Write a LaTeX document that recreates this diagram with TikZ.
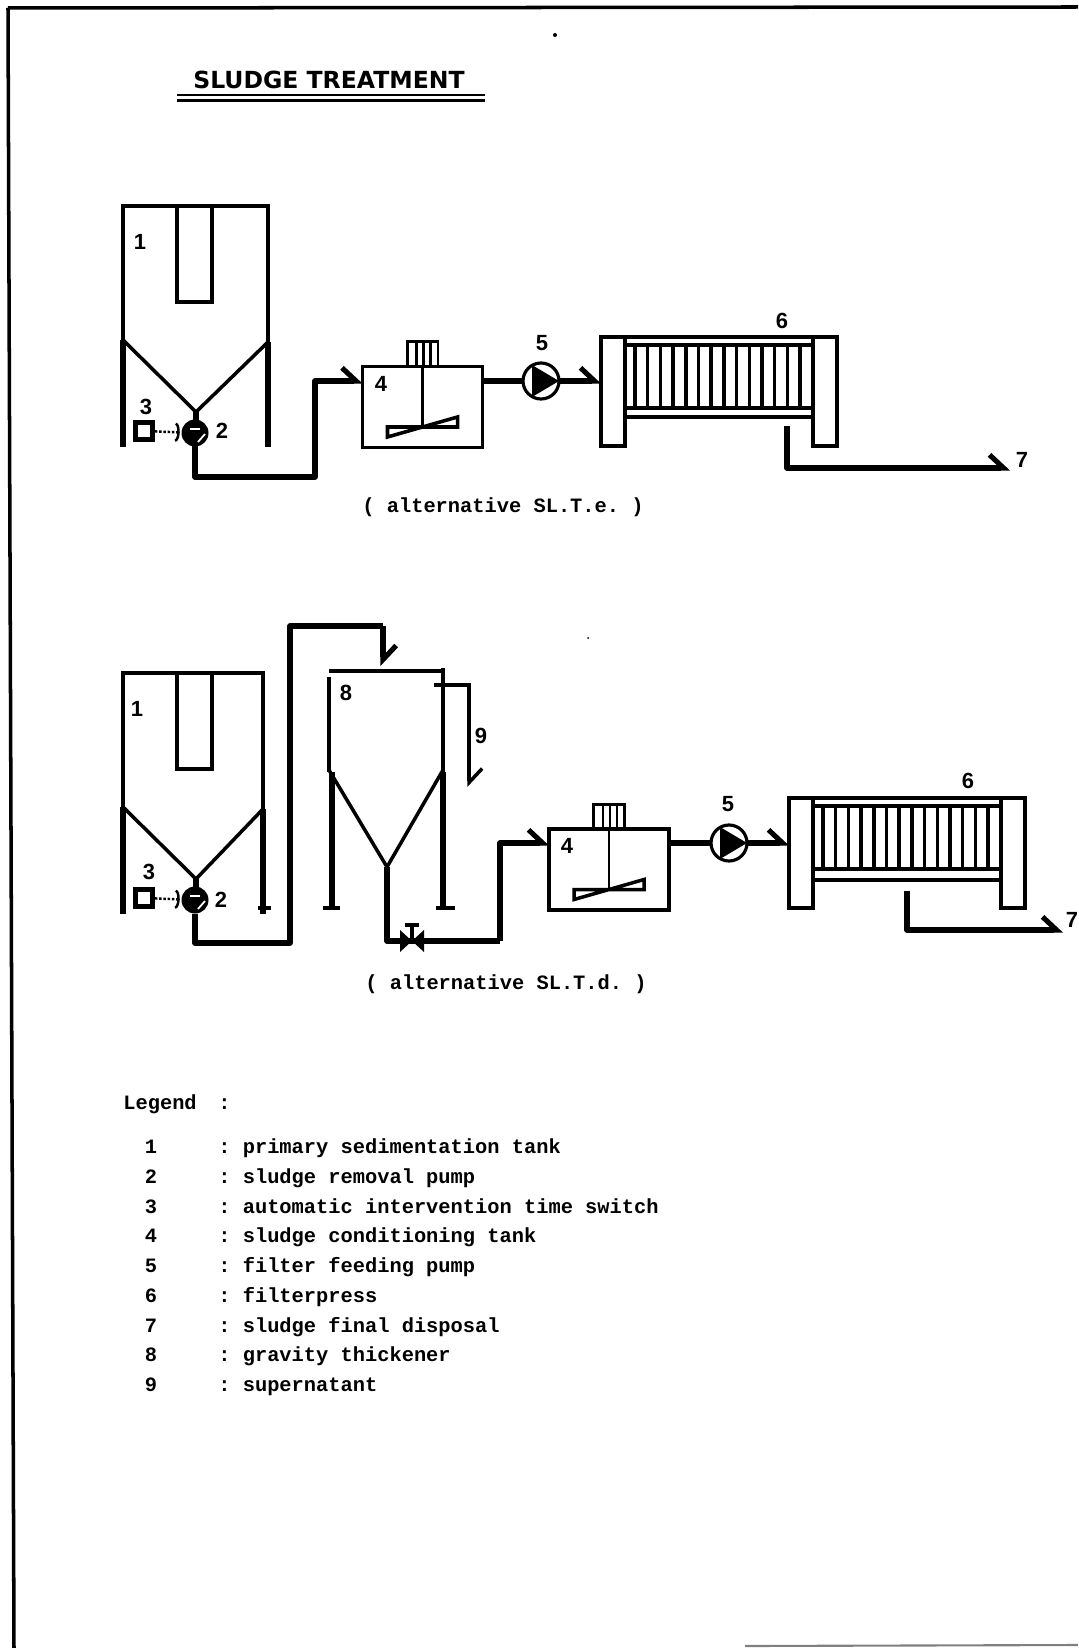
\documentclass[tikz,border=0pt]{standalone}
\usepackage{fontspec}
\setmonofont{Liberation Mono}
\newfontfamily\numfont{Liberation Sans}
\newfontfamily\headfont{DejaVu Sans}
\usetikzlibrary{arrows.meta,positioning}
\tikzset{
  wall/.style={line width=2pt},
  rule/.style={line width=1.2pt},
  skirt/.style={line width=3.2pt},
  thinwall/.style={line width=1.5pt},
  pipe/.style={line width=2.9pt, line join=round},
  barbend/.style={-{Straight Barb[left,length=8pt,width=15pt]}},
  signal/.style={line width=1.4pt, densely dotted, -{Arc Barb[length=2.5pt,width=11pt]}},
  num/.style={font=\numfont\bfseries\fontsize{12.5}{12.5}\selectfont, inner sep=0pt},
  txt/.style={font=\ttfamily\bfseries\fontsize{11.6}{12}\selectfont, inner sep=0pt},
  vessel/.style={rectangle, draw, line width=2pt, minimum width=2.4cm, minimum height=1.62cm, inner sep=0pt, outer sep=0pt},
  motorbox/.style={rectangle, draw, line width=1.7pt, minimum width=0.62cm, minimum height=0.5cm, inner sep=0pt, outer sep=0pt},
  feed/.style={circle, draw, line width=1.8pt, minimum size=0.72cm, inner sep=0pt, outer sep=0pt},
  removal/.style={circle, fill=black, minimum size=0.54cm, inner sep=0pt, outer sep=0pt},
  timer/.style={rectangle, draw, line width=2.8pt, minimum size=0.34cm, inner sep=0pt},
  plate/.style={rectangle, draw, line width=1.9pt, minimum width=0.48cm, inner sep=0pt, outer sep=0pt, anchor=north west},
}
% #1 alternative, #2 #3 top left corner, #4 width
\newcommand{\sedtank}[4]{%
  \begin{scope}[shift={(#2,#3)}]
    \draw[wall] (0,134) -- (0,0) -- (#4,0) -- (#4,136);
    \draw[wall] (54,0) -- (54,96) -- (89,96) -- (89,0);
    \draw[wall] (0,134) -- (73,206) -- (#4,136);
    \draw[skirt] (0,134) -- (0,241);
    \draw[skirt] (#4,136) -- (#4,241);
    \draw[skirt] (73,206) -- (73,215);
    \node[removal] (#12) at (72,227) {};
    \fill[white] (67,222) rectangle (77,224);
    \draw[white, line width=1pt] (75,236) -- (82,228);
    \node[timer] (#13) at (21,225) {};
  \end{scope}
  \draw[signal, shorten >=1pt] (#13) -- (#12);}
% #1 alternative, #2 #3 centre
\newcommand{\condtank}[3]{%
  \node[vessel] (#14) at (#2,#3) {};
  \node[motorbox, above=0pt of #14] (#14m) {};
  \begin{scope}[shift={(#2,#3)}]
    \foreach \xx in {-6,1,8} \draw[thinwall] (\xx,-66) -- (\xx,-41);
    \draw[thinwall] (0,-40) -- (0,20);
    \draw[wall] (-35,20) -- (35,20) -- (35,10) -- (-35,30) -- cycle;
  \end{scope}}
\newcommand{\feedpump}[3]{%
  \node[feed] (#15) at (#2,#3) {};
  \fill (#2-9,#3-16) -- (#2+18,#3) -- (#2-9,#3+16) -- cycle;}
% #1 alternative, #2 #3 top left corner, #4 height, #5 #6 lower bar
\newcommand{\filterpress}[6]{%
  \node[plate, minimum height=#4*0.02cm] (#16l) at (#2,#3) {};
  \node[plate, minimum height=#4*0.02cm] (#16r) at (#2+212,#3) {};
  \begin{scope}[shift={(#2,#3)}]
    \draw[wall] (24,0) -- (212,0);
    \draw[wall] (24,8) -- (212,8);
    \draw[wall] (24,#5) -- (212,#5);
    \draw[wall] (24,#6) -- (212,#6);
    \foreach \xx in {0,...,13} \draw[wall] ({34+\xx*12.7},8) -- ({34+\xx*12.7},#5);
  \end{scope}}

\begin{document}
\begin{tikzpicture}[x=0.02cm,y=-0.02cm]
  \useasboundingbox (0,0) rectangle (1078,1648);
  \draw[wall] (8,8) -- (1078,7);
  \draw[wall] (8,8) -- (14,1648);
  \draw[line width=1.2pt, gray] (745,1646) -- (1078,1645);
  \fill (555,35) circle (2);
  \fill (588,638) circle (1);
  \node[font=\headfont\bfseries\fontsize{13.4}{13}\selectfont, inner sep=0pt] (head) at (329,80) {SLUDGE TREATMENT};
  \draw[rule] (177,95) -- (485,95);
  \draw[rule] (177,100.5) -- (485,100.5);

  % alternative e
  \sedtank{e}{123}{206}{145}
  \condtank{e}{422.5}{407}
  \feedpump{e}{541}{381}
  \filterpress{e}{601}{337}{109}{71}{80}
  \coordinate (ebend) at (315,477);
  \coordinate (eout) at (787,426);
  \coordinate (eend) at (1010,468);
  \draw[pipe, barbend] (e2.south) |- (ebend) |- (e4.west |- e5);
  \draw[pipe] (e4.east |- e5) -- (e5.west);
  \draw[pipe, barbend] (e5.east) -- (e6l.west |- e5);
  \draw[pipe, barbend] (eout) |- (eend);
  \node[num] (e1t) at (140,242) {1};
  \node[num] (e2t) at (222,431) {2};
  \node[num] (e3t) at (146,407) {3};
  \node[num] (e4t) at (381,384) {4};
  \node[num] (e5t) at (542,343) {5};
  \node[num] (e6t) at (782,321) {6};
  \node[num] (e7t) at (1022,460) {7};
  \node[txt] (ecap) at (503,507) {( alternative SL.T.e. )};

  % alternative d
  \sedtank{d}{123}{673}{140}
  \draw[wall] (329,677) -- (329,772);
  \draw[wall] (329,671) -- (443,671);
  \draw[wall] (443,668) -- (443,772);
  \draw[wall] (329,770) -- (387,867) -- (443,770);
  \draw[skirt] (332,772) -- (332,908);
  \draw[skirt] (443,772) -- (443,908);
  \draw[wall] (323,908) -- (340,908);
  \draw[wall] (436,908) -- (455,908);
  \draw[wall] (258,908) -- (271,908);
  \coordinate (dapex) at (387,867);
  \condtank{d}{609}{869.5}
  \feedpump{d}{729}{843}
  \filterpress{d}{789}{798}{110}{71}{82}
  \coordinate (dbend) at (290,943);
  \coordinate (dtop) at (383,626);
  \coordinate (din) at (383,666);
  \coordinate (dvalve) at (412,941);
  \coordinate (dup) at (500,941);
  \coordinate (dover) at (434,685);
  \coordinate (dovr) at (469,787);
  \coordinate (dout) at (907,891);
  \coordinate (dend) at (1063,930);
  \draw[pipe] (d2.south) |- (dbend) |- (dtop);
  \draw[pipe, barbend] (dtop) -- (din);
  \draw[pipe] (dapex) |- (dvalve) -- (dup);
  \draw[pipe, barbend] (dup) |- (d4.west |- d5);
  \fill (400,930) -- (424,952) -- (424,930) -- (400,952) -- cycle;
  \draw[wall] (412,941) -- (412,925);
  \draw[wall] (405,925) -- (419,925);
  \draw[wall, barbend] (dover) -| (dovr);
  \draw[pipe] (d4.east |- d5) -- (d5.west);
  \draw[pipe, barbend] (d5.east) -- (d6l.west |- d5);
  \draw[pipe, barbend] (dout) |- (dend);
  \node[num] (d1t) at (137,709) {1};
  \node[num] (d2t) at (221,900) {2};
  \node[num] (d3t) at (149,872) {3};
  \node[num] (d4t) at (567,846) {4};
  \node[num] (d5t) at (728,804) {5};
  \node[num] (d6t) at (968,781) {6};
  \node[num] (d7t) at (1072,920) {7};
  \node[num] (d8t) at (346,693) {8};
  \node[num] (d9t) at (481,736) {9};
  \node[txt] (dcap) at (506,984) {( alternative SL.T.d. )};

  % legend
  \node[txt, anchor=base west] (leg) at (123,1109) {Legend};
  \node[txt, anchor=base west] (legc) at (218,1109) {:};
  \foreach \nn/\item [count=\i] in {1/primary sedimentation tank, 2/sludge removal pump,
      3/automatic intervention time switch, 4/sludge conditioning tank, 5/filter feeding pump,
      6/filterpress, 7/sludge final disposal, 8/gravity thickener, 9/supernatant}{%
    \node[txt, anchor=base] (n\nn) at (151,{1153.5+(\i-1)*29.75}) {\nn};
    \node[txt, anchor=base west] (t\nn) at (218,{1153.5+(\i-1)*29.75}) {: \item};}
\end{tikzpicture}
\end{document}
